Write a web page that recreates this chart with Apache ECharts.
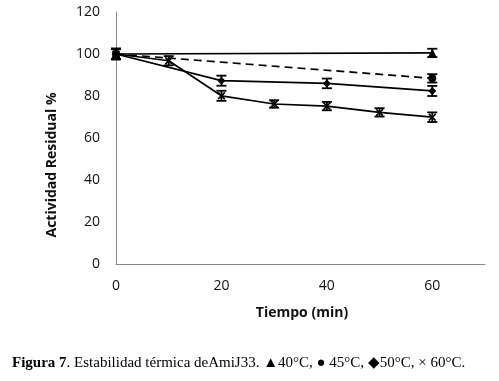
<!DOCTYPE html>
<html>
<head>
<meta charset="utf-8">
<script src="https://cdn.jsdelivr.net/npm/echarts@6/dist/echarts.min.js"></script>
<style>
	html, body { margin: 0; padding: 0; background: #fff; }
	#chart { width: 499px; height: 381px; }
</style>
</head>
<body>
<div id="chart"></div>
<script>
// tiempo (min) y actividad residual (%) por temperatura
const time40 = [0, 60];
const act40 = [100, 100.5];
const err40 = [2.5, 2];

const time45 = [0, 60];
const act45 = [100, 88.4];
const err45 = [2.5, 2];

const time50 = [0, 20, 40, 60];
const act50 = [100, 87.3, 86, 82.4];
const err50 = [2.5, 2.4, 2.3, 2.4];

const time60 = [0, 10, 20, 30, 40, 50, 60];
const act60 = [100, 96.8, 80.1, 76.2, 75.2, 72.2, 69.9];
const err60 = [2.5, 2.2, 2.4, 1.8, 2, 2, 2.3];

const xTicks = [0, 20, 40, 60];
const yTicks = [0, 20, 40, 60, 80, 100, 120];

// aspa rellena (el marcador "x" de Excel)
const crossPath = 'path://M0,1.5L1.5,0L5,3.5L8.5,0L10,1.5L6.5,5L10,8.5L8.5,10L5,6.5L1.5,10L0,8.5L3.5,5Z';

const pairs = (xs, ys) => xs.map((x, i) => [x, ys[i]]);
const errPairs = (xs, ys, es) => xs.map((x, i) => [x, ys[i] - es[i], ys[i] + es[i]]);

const errorSeries = function (xs, ys, es) {
	return {
		type: 'custom',
		z: 5,
		silent: true,
		renderItem: function (params, api) {
			const lo = api.coord([api.value(0), api.value(1)]);
			const hi = api.coord([api.value(0), api.value(2)]);
			const w = 5;
			const st = { stroke: '#000', lineWidth: 1.8 };
			return {
				type: 'group',
				children: [
					{ type: 'line', shape: { x1: lo[0], y1: lo[1], x2: hi[0], y2: hi[1] }, style: st },
					{ type: 'line', shape: { x1: lo[0] - w, y1: lo[1], x2: lo[0] + w, y2: lo[1] }, style: st },
					{ type: 'line', shape: { x1: hi[0] - w, y1: hi[1], x2: hi[0] + w, y2: hi[1] }, style: st }
				]
			};
		},
		encode: { x: 0, y: [1, 2] },
		data: errPairs(xs, ys, es)
	};
};

const lineSeries = function (name, xs, ys, symbol, size, dashed) {
	return {
		name: name,
		type: 'line',
		z: 4,
		symbol: symbol,
		symbolSize: size,
		showAllSymbol: true,
		itemStyle: { color: '#000', borderWidth: 0 },
		lineStyle: { color: '#000', width: 1.7, type: dashed ? [8, 5] : 'solid' },
		data: pairs(xs, ys)
	};
};

const chart = echarts.init(document.getElementById('chart'), null, { renderer: 'canvas' });

const option = {
	animation: false,
	backgroundColor: '#fff',
	grid: { left: 116, right: 14, top: 12, bottom: 117 },
	xAxis: {
		type: 'value',
		min: 0,
		max: 70,
		interval: 20,
		splitLine: { show: false },
		axisTick: { show: false },
		axisLine: { lineStyle: { color: '#888', width: 1 } },
		axisLabel: {
			showMaxLabel: false,
			margin: 15,
			color: '#111',
			fontFamily: 'Open Sans',
			fontSize: 14,
			formatter: v => (xTicks.indexOf(v) >= 0 ? String(v) : '')
		}
	},
	yAxis: {
		type: 'value',
		min: 0,
		max: 120,
		interval: 20,
		splitLine: { show: false },
		axisTick: { show: false },
		axisLine: { show: true, lineStyle: { color: '#888', width: 1 } },
		axisLabel: {
			margin: 16,
			color: '#111',
			fontFamily: 'Open Sans',
			fontSize: 14,
			formatter: v => (yTicks.indexOf(v) >= 0 ? String(v) : '')
		}
	},
	graphic: [
		{
			type: 'text',
			x: 52,
			y: 165,
			rotation: Math.PI / 2,
			style: {
				text: 'Actividad Residual %',
				fill: '#111',
				font: 'bold 14px "Open Sans"',
				align: 'center',
				verticalAlign: 'middle'
			}
		},
		{
			type: 'text',
			x: 302,
			y: 313,
			style: {
				text: 'Tiempo (min)',
				fill: '#111',
				font: 'bold 14px "Open Sans"',
				align: 'center',
				verticalAlign: 'middle'
			}
		},
		{
			type: 'text',
			x: 12,
			y: 363,
			style: {
				text: '{b|Figura 7}. Estabilidad térmica deAmiJ33. ▲40°C, ● 45°C, ◆50°C, × 60°C.',
				fill: '#000',
				font: '15px "Liberation Serif"',
				verticalAlign: 'middle',
				rich: {
					b: { fontWeight: 'bold', fontFamily: 'Liberation Serif', fontSize: 15 }
				}
			}
		}
	],
	series: [
		lineSeries('40°C', time40, act40, 'triangle', 9, false),
		lineSeries('45°C', time45, act45, 'circle', 8, true),
		lineSeries('50°C', time50, act50, 'diamond', 8, false),
		lineSeries('60°C', time60, act60, crossPath, 8, false),
		errorSeries(time40, act40, err40),
		errorSeries(time45, act45, err45),
		errorSeries(time50, act50, err50),
		errorSeries(time60, act60, err60)
	]
};

chart.setOption(option);
</script>
</body>
</html>
